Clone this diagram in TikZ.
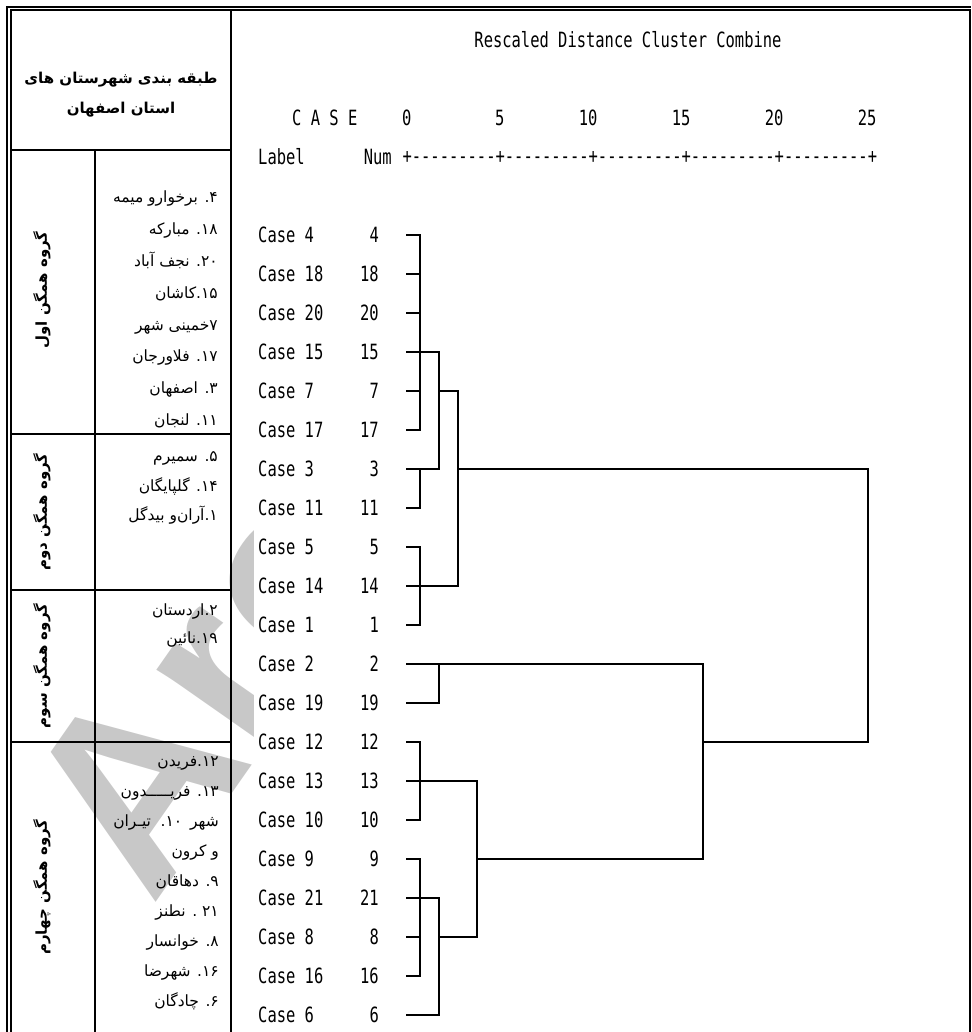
\documentclass[tikz,border=0pt]{standalone}
\usepackage{fontspec}
\TeXXeTstate=1
\newfontfamily\arb[Script=Arabic]{DejaVu Sans}
\newfontfamily\spss[FakeStretch=0.736]{DejaVu Sans Mono}
\newfontfamily\wmf{Liberation Sans}
\definecolor{wmgray}{RGB}{200,200,200}
\def\zk{\kern0pt }
\begin{document}
\begin{tikzpicture}[x=1pt,y=-1pt,
  rule/.style={line width=2pt},
  dl/.style={line width=1.8pt, line cap=rect},
  mono/.style={font=\spss\fontsize{21}{21}\selectfont, inner sep=0pt},
  item/.style={font=\arb\fontsize{15.5}{15.5}\selectfont, inner sep=0pt, anchor=east, text height=11pt, text depth=5pt},
  grp/.style={font=\arb\bfseries\fontsize{15}{15}\selectfont, inner sep=0pt, rotate=90},
  head/.style={font=\arb\bfseries\fontsize{15}{15}\selectfont, inner sep=0pt},
]
\useasboundingbox (0,0) rectangle (971,1032);
% watermark
\begin{scope}
\clip (0,0) rectangle (253,1032);
\node[text=wmgray, rotate=55, anchor=base west, inner sep=0pt, font=\wmf\bfseries\fontsize{250}{250}\selectfont] (wm) at (152,908) {Arc};
\end{scope}
% frame
\coordinate (oTL) at (7,7);
\coordinate (oTR) at (971,7);
\coordinate (oBL) at (7,1032);
\coordinate (iTL) at (11,10.5);
\coordinate (iTR) at (969.5,10.5);
\coordinate (iBL) at (11,1032);
\coordinate (iBR) at (969.5,1032);
\draw[rule] (oBL) -- (oTL) -- (oTR);
\draw[rule] (iBL) -- (iTL) -- (iTR) -- (iBR);
% table
\coordinate (tT) at (231,10.5);
\coordinate (tB) at (231,1032);
\coordinate (cT) at (95,150);
\coordinate (cB) at (95,1032);
\draw[rule] (tT) -- (tB);
\draw[rule] (cT) -- (cB);
\foreach \yy in {150,434,590,742} \draw[rule] (11,\yy) -- (231,\yy);
% header
\node[head] (h1) at (121,80) {\beginR طبقه بندی شهرستان های\endR};
\node[head] (h2) at (121,110) {\beginR استان اصفهان\endR};
% group labels
\node[grp] (g1) at (42,290) {\beginR گروه همگن اول\endR};
\node[grp] (g2) at (42,512) {\beginR گروه همگن دوم\endR};
\node[grp] (g3) at (42,666) {\beginR گروه همگن سوم\endR};
\node[grp] (g4) at (42,887) {\beginR گروه همگن چهارم\endR};
% items
\node[item] (i4)  at (218,200) {\beginR ۴\zk. برخوارو میمه\endR};
\node[item] (i18) at (218,231) {\beginR ۱۸\zk. مبارکه\endR};
\node[item] (i20) at (218,263) {\beginR ۲۰\zk. نجف آباد\endR};
\node[item] (i15) at (218,295) {\beginR ۱۵\zk.\zk کاشان\endR};
\node[item] (i7)  at (218,327) {\beginR ۷\zk خمینی شهر\endR};
\node[item] (i17) at (218,358) {\beginR ۱۷\zk. فلاورجان\endR};
\node[item] (i3)  at (218,390) {\beginR ۳\zk. اصفهان\endR};
\node[item] (i11) at (218,422) {\beginR ۱۱\zk. لنجان\endR};
\node[item] (i5)  at (218,458) {\beginR ۵\zk. سمیرم\endR};
\node[item] (i14) at (218,488) {\beginR ۱۴\zk. گلپایگان\endR};
\node[item] (i1)  at (218,517) {\beginR ۱\zk.\zk آران‌و بیدگل\endR};
\node[item] (i2)  at (218,612) {\beginR ۲\zk.\zk اردستان\endR};
\node[item] (i19) at (218,640) {\beginR ۱۹\zk.\zk نائین\endR};
\node[item] (i12) at (219,763) {\beginR ۱۲\zk.\zk فریدن\endR};
\node[item] (i13) at (219,793) {\beginR ۱۳\zk. فریـــــدون\endR};
\node[item] (i10) at (219,823) {\beginR شهر\hspace{3pt} ۱۰\zk.\hspace{3pt} تیـران\endR};
\node[item] (ik)  at (219,853) {\beginR و کرون\endR};
\node[item] (i9)  at (219,883) {\beginR ۹\zk. دهاقان\endR};
\node[item] (i21) at (219,913) {\beginR ۲۱ . نطنز\endR};
\node[item] (i8)  at (219,943) {\beginR ۸\zk. خوانسار\endR};
\node[item] (i16) at (219,973) {\beginR ۱۶\zk. شهرضا\endR};
\node[item] (i6)  at (219,1003) {\beginR ۶\zk. چادگان\endR};
% dendrogram header
\node[mono] (title) at (628,40) {Rescaled Distance Cluster Combine};
\node[mono, anchor=west] (case) at (292,118) {C A S E};
\node[mono, anchor=west] (label) at (258,157) {Label};
\node[mono, anchor=east] (numh) at (392,157) {Num};
\node[mono, anchor=west] (ruler) at (402.35,157) {+---------+---------+---------+---------+---------+};
\foreach \t [count=\k from 0] in {0,5,10,15,20,25}
  \node[mono, anchor=east] (t\t) at ({407+93*\k+4.65},118) {\t};
% rows
\foreach \c [count=\i from 0] in {4,18,20,15,7,17,3,11,5,14,1,2,19,12,13,10,9,21,8,16,6} {
  \node[mono, anchor=west] (lab\c) at (258,{235+39*\i}) {Case \c};
  \node[mono, anchor=east] (num\c) at (379,{235+39*\i}) {\c};
  \coordinate (r\c) at (407,{235+39*\i});
}
\coordinate (xA) at (420,0);
\coordinate (xB) at (439,0);
\coordinate (xC) at (458,0);
\coordinate (xD) at (477,0);
\coordinate (xE) at (703,0);
\coordinate (xF) at (868,0);
% leaves
\foreach \c in {4,18,20,7,17,11,5,1,12,10,9,8,16} \draw[dl] (r\c) -- (r\c -| xA);
\foreach \c in {15,3,19,21,6} \draw[dl] (r\c) -- (r\c -| xB);
\draw[dl] (r14) -- (r14 -| xC);
\draw[dl] (r13) -- (r13 -| xD);
\draw[dl] (r2) -- (r2 -| xE);
% level A verticals
\draw[dl] (r4 -| xA) -- (r17 -| xA);
\draw[dl] (r3 -| xA) -- (r11 -| xA);
\draw[dl] (r5 -| xA) -- (r1 -| xA);
\draw[dl] (r12 -| xA) -- (r10 -| xA);
\draw[dl] (r9 -| xA) -- (r16 -| xA);
% level B
\draw[dl] (r15 -| xB) -- (r3 -| xB);
\draw[dl] (r2 -| xB) -- (r19 -| xB);
\draw[dl] (r21 -| xB) -- (r6 -| xB);
% level C
\draw[dl] (r7 -| xB) -- (r7 -| xC);
\draw[dl] (r7 -| xC) -- (r14 -| xC);
\draw[dl] (r3 -| xC) -- (r3 -| xF);
% level D
\draw[dl] (r8 -| xB) -- (r8 -| xD);
\draw[dl] (r13 -| xD) -- (r8 -| xD);
\draw[dl] (r9 -| xD) -- (r9 -| xE);
% level E, F
\draw[dl] (r2 -| xE) -- (r9 -| xE);
\draw[dl] (r12 -| xE) -- (r12 -| xF);
\draw[dl] (r3 -| xF) -- (r12 -| xF);
\end{tikzpicture}
\end{document}
